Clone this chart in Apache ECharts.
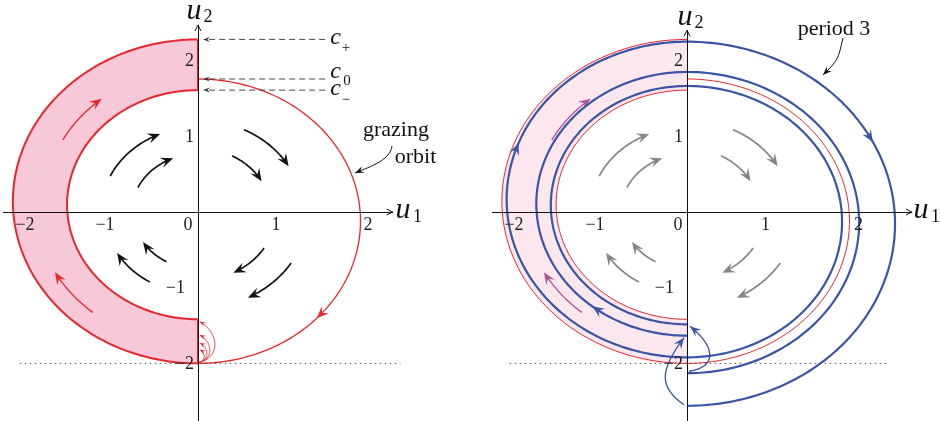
<!DOCTYPE html>
<html><head><meta charset="utf-8">
<script src="https://cdn.jsdelivr.net/npm/echarts@6/dist/echarts.min.js"></script>
<style>html,body{margin:0;padding:0;background:#fff}#c{width:940px;height:421px}</style>
</head><body><div id="c"></div>
<script>
// ---------------- data (phase-plane units u1, u2) ----------------
const tickValues = [-2, -1, 0, 1, 2];
const threshold = -2;                               // dotted line u2 = -2
const cLevels = [2.28, 1.757, 1.61];                // c+, c0, c-
const cNames = ['+', '0', '\u2212'];
const pinkOuter = [2.28, -2.0];                     // left half orbit [top, bottom] on u1 = 0
const pinkInner = [1.61, -1.417];
const grazingOrbit = [1.757, -2.0];                 // right half orbit [top, bottom]
const grazingJumps = [-1.45, -1.625, -1.73, -1.82]; // landing points of jumps from u2 = -2
const p3RightHalves = [[2.25, -2.56], [1.85, -2.13], [1.665, -1.92]];
const p3LeftHalves  = [[2.25, -1.92], [1.85, -1.634], [1.665, -1.484]];
const p3Jumps = [[-2.56, -1.634], [-2.13, -1.484]];
// flow arrows: [radius, startAngle, endAngle] (degrees, about the origin)
const flowArrows = [[1.12,155,113],[0.766,155,112],[1.21,64,30],[0.84,62,29],
                    [1.08,239,210],[0.75,241,212],[0.90,-32,-63],[1.27,-32,-63]];
// band arrows: [radius, startAngle, endAngle] about (0, 0.12)
const bandArrows = [[1.77,152,129],[1.89,230,209]];
const bandCenter = 0.12;

// ---------------- styling ----------------
const RED='#e8262c', PINK='#f7c8d8', PINK2='#fce7ee', BLUE='#3b55a5',
      PURPLE='#b0529b', GRAY='#858585', INK='#111';
const SERIF="'Liberation Serif','Times New Roman',serif";
const rad = d => d*Math.PI/180;
const fmt = v => (v<0?'\u2212':'')+Math.abs(Math.round(v));

function unit(a,b){const dx=b[0]-a[0],dy=b[1]-a[1],l=Math.hypot(dx,dy)||1;return [dx/l,dy/l];}
function head(tip,dir,L,W,color){
  const nx=-dir[1],ny=dir[0];
  return {type:'polygon',silent:true,shape:{points:[
    tip,[tip[0]-dir[0]*L+nx*W,tip[1]-dir[1]*L+ny*W],
    [tip[0]-dir[0]*L*0.62,tip[1]-dir[1]*L*0.62],
    [tip[0]-dir[0]*L-nx*W,tip[1]-dir[1]*L-ny*W]]},style:{fill:color,stroke:null}};
}
function poly(pts,color,w,dash){return {type:'polyline',silent:true,shape:{points:pts},
  style:{stroke:color,lineWidth:w,fill:null,lineDash:dash||null,lineJoin:'round'}};}
function bez(p0,c1,c2,p3,color,w){return {type:'bezierCurve',silent:true,shape:{x1:p0[0],y1:p0[1],
  cpx1:c1[0],cpy1:c1[1],cpx2:c2[0],cpy2:c2[1],x2:p3[0],y2:p3[1]},style:{stroke:color,lineWidth:w,fill:null}};}
function txt(p,s,size,italic,align,color){return {type:'text',silent:true,x:p[0],y:p[1],style:{text:s,fontSize:size,
  fontFamily:SERIF,fontStyle:italic?'italic':'normal',fill:color||INK,align:align||'center',verticalAlign:'middle',
  textAlign:align||'center',textVerticalAlign:'middle'}};}
function halfArc(api,top,bottom,side,n){
  const cy=(top+bottom)/2,r=(top-bottom)/2,pts=[];
  for(let i=0;i<=n;i++){const a=side==='right'?90-180*i/n:90+180*i/n;
    pts.push(api.coord([r*Math.cos(rad(a)),cy+r*Math.sin(rad(a))]));}
  return pts;
}
function arcArrow(api,cy,a,color,w,L,W){
  const [r,a0,a1]=a,n=30,pts=[];
  for(let i=0;i<=n;i++){const t=a0+(a1-a0)*i/n;pts.push(api.coord([r*Math.cos(rad(t)),cy+r*Math.sin(rad(t))]));}
  const tip=pts[n],dir=unit(pts[n-1],tip);
  return [poly(pts.slice(0,n-2),color,w),head(tip,dir,L,W,color)];
}
function orbitHead(api,half,ang,color,L,W){
  const cy=(half[0]+half[1])/2,r=(half[0]-half[1])/2;
  const P=t=>api.coord([r*Math.cos(rad(t)),cy+r*Math.sin(rad(t))]);
  const tip=P(ang-3),dir=unit(P(ang+1),P(ang-3));
  return head(tip,dir,L,W,color);
}
function axisArrows(api,xmax,ymax){
  const X=api.coord([xmax,0]),Y=api.coord([0,ymax]);
  return [poly([[X[0]-6,X[1]-3],X,[X[0]-6,X[1]+3]],INK,1),poly([[Y[0]-3,Y[1]+6],Y,[Y[0]+3,Y[1]+6]],INK,1)];
}
const off=(O,dx,dy)=>[O[0]+dx,O[1]+dy];
function tickLabels(api,xShift){
  const out=[];
  tickValues.forEach((v,i)=>{
    const p=api.coord([v,0]);
    out.push(txt([p[0]+xShift[i],p[1]+13],fmt(v),18,false,'center','#222'));
    if(v!==0){const q=api.coord([0,v]);
      out.push(txt([q[0]-(v===-1?13:4),q[1]+1],fmt(v),18,false,'right','#222'));}
  });
  return out;
}

// ---------------- left panel ----------------
function leftGroup(api){
  const C=p=>api.coord(p),O=C([0,0]),ch=[];
  const outer=halfArc(api,pinkOuter[0],pinkOuter[1],'left',140);
  const inner=halfArc(api,pinkInner[0],pinkInner[1],'left',140).reverse();
  ch.push({type:'polygon',silent:true,shape:{points:outer.concat(inner)},style:{fill:PINK,stroke:RED,lineWidth:2}});
  ch.push(poly(halfArc(api,grazingOrbit[0],grazingOrbit[1],'right',140),RED,1.3));
  ch.push(orbitHead(api,grazingOrbit,-40,RED,12,5));
  const P0=off(C([0,threshold]),1,-1);
  grazingJumps.forEach(t=>{
    const P3=off(C([0,t]),2,0),h=P0[1]-P3[1],w=0.38*h;
    const c1=[P0[0]+1.33*w,P0[1]-0.1*h],c2=[P3[0]+1.33*w,P3[1]+0.3*h];
    ch.push(bez(P0,c1,c2,P3,RED,0.8));ch.push(head(P3,unit(c2,P3),5.5,2.3,RED));
  });
  flowArrows.forEach(a=>ch.push(...arcArrow(api,0,a,INK,1.7,12.5,5.2)));
  bandArrows.forEach(a=>ch.push(...arcArrow(api,bandCenter,a,RED,1.3,12,5)));
  cLevels.forEach(c=>{
    const a=C([1.47,c]),b=C([0.058,c]);
    ch.push(poly([a,[b[0]+4,b[1]]],'#333',0.9,[6,4]));ch.push(head(b,[-1,0],7,2.5,'#333'));
  });
  ch.push(txt(off(O,137.5,-174),'c',24,true));ch.push(txt(off(O,148,-164),cNames[0],15,false));
  ch.push(txt(off(O,137.5,-140),'c',24,true));ch.push(txt(off(O,149,-131),cNames[1],15,false));
  ch.push(txt(off(O,137.5,-123),'c',24,true));ch.push(txt(off(O,148,-112),cNames[2],15,false));
  ch.push(poly([C([-2.06,threshold]),C([2.34,threshold])],'#555',1,[1.5,3.5]));
  ch.push(txt(off(O,198,-82),'grazing',22,false));ch.push(txt(off(O,217.5,-55),'orbit',22,false));
  const s=off(O,194,-66),k1=off(O,192,-52),k2=off(O,174,-46),tp=off(O,157,-39);
  ch.push(bez(s,k1,k2,tp,INK,1));ch.push(head(tp,unit(k2,tp),9,3.5,INK));
  ch.push(...axisArrows(api,2.25,2.47));
  ch.push(...tickLabels(api,[0,-6.5,-10,-8.5,-3]));
  ch.push(txt(off(O,-4,-201),'u',30,true));ch.push(txt(off(O,10,-194.5),'2',18,false));
  ch.push(txt(off(O,205,-1.5),'u',30,true));ch.push(txt(off(O,219.5,5.5),'1',18,false));
  return {type:'group',children:ch};
}

// ---------------- right panel ----------------
function rightGroup(api){
  const C=p=>api.coord(p),O=C([0,0]),ch=[];
  const outerPts=halfArc(api,pinkOuter[0],pinkOuter[1],'left',140);
  const innerPts=halfArc(api,pinkInner[0],pinkInner[1],'left',140);
  ch.push({type:'polygon',silent:true,shape:{points:outerPts.concat(innerPts.slice().reverse())},style:{fill:PINK2}});
  ch.push(poly(outerPts,RED,1));ch.push(poly(innerPts,RED,1));
  ch.push(poly(halfArc(api,grazingOrbit[0],grazingOrbit[1],'right',140),RED,1));
  flowArrows.forEach(a=>ch.push(...arcArrow(api,0,a,GRAY,1.7,12.5,5.2)));
  bandArrows.forEach(a=>ch.push(...arcArrow(api,bandCenter,a,PURPLE,1.3,12,5)));
  ch.push(poly([C([-2.05,threshold]),C([2.32,threshold])],'#555',1,[1.5,3.5]));
  p3RightHalves.forEach(h=>ch.push(poly(halfArc(api,h[0],h[1],'right',160),BLUE,2.2)));
  p3LeftHalves.forEach(h=>ch.push(poly(halfArc(api,h[0],h[1],'left',160),BLUE,2.2)));
  ch.push(orbitHead(api,p3RightHalves[0],29.7,BLUE,12,5));
  ch.push(orbitHead(api,p3LeftHalves[0],162,BLUE,12,5));
  ch.push(orbitHead(api,p3LeftHalves[1],234,BLUE,12,5));
  {
    const P0=off(C([0,p3Jumps[0][0]]),-3,-1),P3=off(C([0,p3Jumps[0][1]]),-3,2);
    const c1=[P0[0]-26,P0[1]-18],c2=[P3[0]-24,P3[1]+32];
    ch.push(bez(P0,c1,c2,P3,BLUE,1.3));ch.push(head(P3,unit(c2,P3),11,4.5,BLUE));
  }
  {
    const P0=off(C([0,p3Jumps[1][0]]),2,-2),P3=off(C([0,p3Jumps[1][1]]),3,2);
    const c1=[P0[0]+27,P0[1]-4],c2=[P3[0]+27,P3[1]+22];
    ch.push(bez(P0,c1,c2,P3,BLUE,1.3));ch.push(head(P3,unit(c2,P3),11,4.5,BLUE));
  }
  ch.push(txt(off(O,147,-183),'period 3',22,false));
  const s=off(O,156,-174),k=off(O,151,-152),tp=off(O,136,-137);
  ch.push(bez(s,k,k,tp,INK,1));ch.push(head(tp,unit(k,tp),9,3.5,INK));
  ch.push(...axisArrows(api,2.6,2.40));
  ch.push(...tickLabels(api,[0,-5.5,-9,-8,-1.5]));
  ch.push(txt(off(O,-2,-194.5),'u',30,true));ch.push(txt(off(O,12,-188.5),'2',18,false));
  ch.push(txt(off(O,234,-1.5),'u',30,true));ch.push(txt(off(O,248.5,5),'1',18,false));
  return {type:'group',children:ch};
}

// ---------------- axes ----------------
const SX=86.5, SY=75.7;
function axisCfg(idx,min,max){
  return {type:'value',gridIndex:idx,min,max,interval:0.25,z:3,
    axisLine:{onZero:true,lineStyle:{color:INK,width:1}},axisTick:{show:false},
    splitLine:{show:false},axisLabel:{show:false}};
}
const L={xmin:-2.25,xmax:2.25,ymin:-3,ymax:2.47,ox:198,oy:212};
const R={xmin:-2.25,xmax:2.6,ymin:-3,ymax:2.40,ox:687,oy:212};
function gridOf(g){return {left:g.ox+g.xmin*SX,width:(g.xmax-g.xmin)*SX,top:g.oy-g.ymax*SY,
  height:(g.ymax-g.ymin)*SY,containLabel:false,outerBoundsMode:'none'};}

const chart=echarts.init(document.getElementById('c'),null,{renderer:'canvas'});
chart.setOption({
  animation:false,backgroundColor:'#fff',
  grid:[gridOf(L),gridOf(R)],
  xAxis:[axisCfg(0,L.xmin,L.xmax),axisCfg(1,R.xmin,R.xmax)],
  yAxis:[axisCfg(0,L.ymin,L.ymax),axisCfg(1,R.ymin,R.ymax)],
  series:[
    {type:'custom',xAxisIndex:0,yAxisIndex:0,data:[[0,0]],clip:false,silent:true,z:2,renderItem:(p,api)=>leftGroup(api)},
    {type:'custom',xAxisIndex:1,yAxisIndex:1,data:[[0,0]],clip:false,silent:true,z:2,renderItem:(p,api)=>rightGroup(api)}
  ]
});
</script></body></html>
